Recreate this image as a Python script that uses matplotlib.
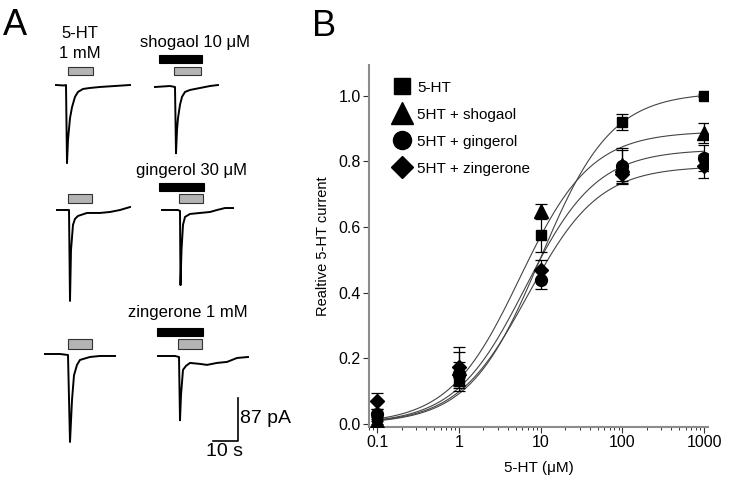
import matplotlib
matplotlib.use('Agg')
import matplotlib.pyplot as plt
import numpy as np
from matplotlib.lines import Line2D
from matplotlib.patches import Rectangle

plt.rcParams['font.family'] = ['Liberation Sans', 'DejaVu Sans']

# ---- panel B data ----
conc = [0.1, 1, 10, 100, 1000]
series = ['5-HT', '5HT + shogaol', '5HT + gingerol', '5HT + zingerone']
mean_5ht = [0.02, 0.13, 0.575, 0.92, 1.0]
err_5ht = [0.01, 0.03, 0.05, 0.025, 0.005]
mean_sho = [0.01, 0.17, 0.65, 0.79, 0.885]
err_sho = [0.01, 0.05, 0.02, 0.05, 0.03]
mean_gin = [0.03, 0.15, 0.44, 0.785, 0.81]
err_gin = [0.015, 0.04, 0.03, 0.05, 0.04]
mean_zin = [0.07, 0.175, 0.47, 0.76, 0.785]
err_zin = [0.025, 0.06, 0.03, 0.03, 0.035]

# Hill fit parameters (top, EC50 in uM, slope)
fit_top = [1.01, 0.891, 0.836, 0.785]
fit_ec50 = [10.0, 5.6, 6.6, 7.0]
fit_n = [1.0, 1.0, 1.0, 1.0]

# ---- panel A traces: time (s), current (pA) relative to baseline ----
t1 = [0, 3.2, 4, 4.4, 4.8, 5.6, 6.4, 7.6, 8.8, 10.8, 13.6, 17.6, 23.6, 29.6]
i1 = [0, -1, 0, -158, -111, -67, -45, -24, -14, -8, -6, -4, -2, 0]
t2 = [0, 6, 8, 8.4, 8.8, 9.2, 10, 10.8, 12, 14, 18, 22, 25.2]
i2 = [0, 2, 0, -134, -87, -63, -36, -20, -10, -6, -2, 2, 4]
t3 = [0, 4.4, 4.8, 5.2, 5.6, 6.4, 7.2, 8.4, 12, 17.2, 21.2, 25.2, 29.2]
i3 = [0, 0, 0, -184, -81, -30, -18, -12, -6, -6, -4, 0, 6]
t4 = [0, 6.4, 7.2, 7.4, 7.8, 8.4, 9.2, 11.2, 15.2, 19.2, 22, 25.2, 28.4]
i4 = [0, 0, -2, -152, -81, -30, -14, -8, -6, -4, 0, 4, 4]
t5 = [0, 6, 9.2, 10, 10.8, 11.6, 12.8, 14, 18, 22, 28]
i5 = [0, 0, -2, -178, -93, -43, -22, -12, -6, -4, -4]
t6 = [0, 6.8, 8.4, 8.8, 9.2, 10, 11.2, 12.8, 16.8, 19.6, 23.6, 27.6, 31.6, 36]
i6 = [0, 0, -2, -130, -79, -28, -20, -14, -16, -18, -14, -12, -4, -2]

drug_labels = ['shogaol 10 \u03bcM', 'gingerol 30 \u03bcM', 'zingerone 1 mM']

fig = plt.figure(figsize=(7.34, 4.86), dpi=100)

# ================= panel A =================
ax_a = fig.add_axes([0, 0, 300 / 734, 1])
ax_a.set_xlim(0, 300)
ax_a.set_ylim(486, 0)
ax_a.axis('off')

PX_S = 2.5          # pixels per second (10 s bar = 25 px)
PX_PA = 43 / 87.0   # pixels per pA (87 pA bar = 43 px)

traces = [(t1, i1, 56, 85), (t2, i2, 155, 87),
          (t3, i3, 57, 210), (t4, i4, 162, 210),
          (t5, i5, 45, 354), (t6, i6, 158, 356)]
for t, cur, x0, y0 in traces:
    ax_a.plot(x0 + np.array(t) * PX_S, y0 - np.array(cur) * PX_PA,
              color='black', lw=1.4, solid_joinstyle='round')

# application bars (5-HT gray, drug black)
gray_bars = [(68, 67, 25, 8), (174, 67, 27, 8),
             (68, 194, 24, 9), (179, 194, 24, 9),
             (68, 339, 24, 10), (178, 339, 24, 10)]
black_bars = [(159, 55, 43, 8), (159, 183, 45, 8), (157, 328, 46, 8)]
for x, y, w, h in gray_bars:
    ax_a.add_patch(Rectangle((x, y), w, h, facecolor='#b4b4b4', edgecolor='#333333', lw=0.8))
for x, y, w, h in black_bars:
    ax_a.add_patch(Rectangle((x, y), w, h, facecolor='black', edgecolor='black', lw=0.8))

ax_a.text(3, 35, 'A', fontsize=26, ha='left', va='baseline')
ax_a.text(80, 33, '5-HT', fontsize=12, ha='center', va='center')
ax_a.text(80, 53, '1 mM', fontsize=12, ha='center', va='center')
for (xc, yc), lab in zip([(195, 42), (192, 170), (188, 312)], drug_labels):
    ax_a.text(xc, yc, lab, fontsize=12, ha='center', va='center')

# scale bar
ax_a.plot([213, 238, 238], [441, 441, 441 - 87 * PX_PA], color='black', lw=1.2)
ax_a.text(240, 418, '87 pA', fontsize=14, ha='left', va='center')
ax_a.text(225, 451, '10 s', fontsize=14, ha='center', va='center')

# ================= panel B =================
ax = fig.add_axes([369 / 734, 1 - 427 / 486, 339 / 734, 362 / 486])
ax.set_xscale('log')
ax.set_xlim(0.0798, 1119)
ax.set_ylim(-0.009, 1.093)

markers = ['s', '^', 'o', 'D']
msizes = [7, 10, 8.5, 7]
means = [mean_5ht, mean_sho, mean_gin, mean_zin]
errs = [err_5ht, err_sho, err_gin, err_zin]

xs = np.logspace(-1, 3, 300)
for k in range(4):
    ys = fit_top[k] * xs ** fit_n[k] / (xs ** fit_n[k] + fit_ec50[k] ** fit_n[k])
    ax.plot(xs, ys, color='#444444', lw=0.8, zorder=2)

for k in range(4):
    ax.errorbar(conc, means[k], yerr=errs[k], fmt=markers[k], ms=msizes[k],
                color='black', ecolor='black', elinewidth=0.9, capsize=4,
                capthick=0.9, zorder=3)

ax.set_xticks(conc)
ax.set_xticklabels(['0.1', '1', '10', '100', '1000'])
ax.set_yticks([0, 0.2, 0.4, 0.6, 0.8, 1.0])
ax.set_yticklabels(['0.0', '0.2', '0.4', '0.6', '0.8', '1.0'])
ax.tick_params(which='major', direction='out', length=4, width=0.8,
               color='#333333', labelsize=11.5, pad=2)
ax.tick_params(which='minor', direction='out', length=2.5, width=0.7, color='#333333')
ax.yaxis.set_minor_locator(matplotlib.ticker.NullLocator())

for s in ['top', 'right']:
    ax.spines[s].set_visible(False)
for s in ['left', 'bottom']:
    ax.spines[s].set_color('#8c8c8c')
    ax.spines[s].set_linewidth(1.5)

ax.set_xlabel('5-HT (\u03bcM)', fontsize=11, labelpad=8)
ax.set_ylabel('Realtive 5-HT current', fontsize=10.5, labelpad=6)

handles = [Line2D([], [], ls='none', marker='s', ms=12, color='black'),
           Line2D([], [], ls='none', marker='^', ms=16, color='black'),
           Line2D([], [], ls='none', marker='o', ms=13, color='black'),
           Line2D([], [], ls='none', marker='D', ms=11, color='black')]
ax.legend(handles, series, loc='upper left', bbox_to_anchor=(385 / 734, 1 - 73 / 486),
          bbox_transform=fig.transFigure, frameon=False, fontsize=11,
          handlelength=1.2, handletextpad=0.4, labelspacing=0.85, borderpad=0)

fig.text(312 / 734, 1 - 36 / 486, 'B', fontsize=26, ha='left', va='baseline')

fig.savefig('out.png', dpi=100)
